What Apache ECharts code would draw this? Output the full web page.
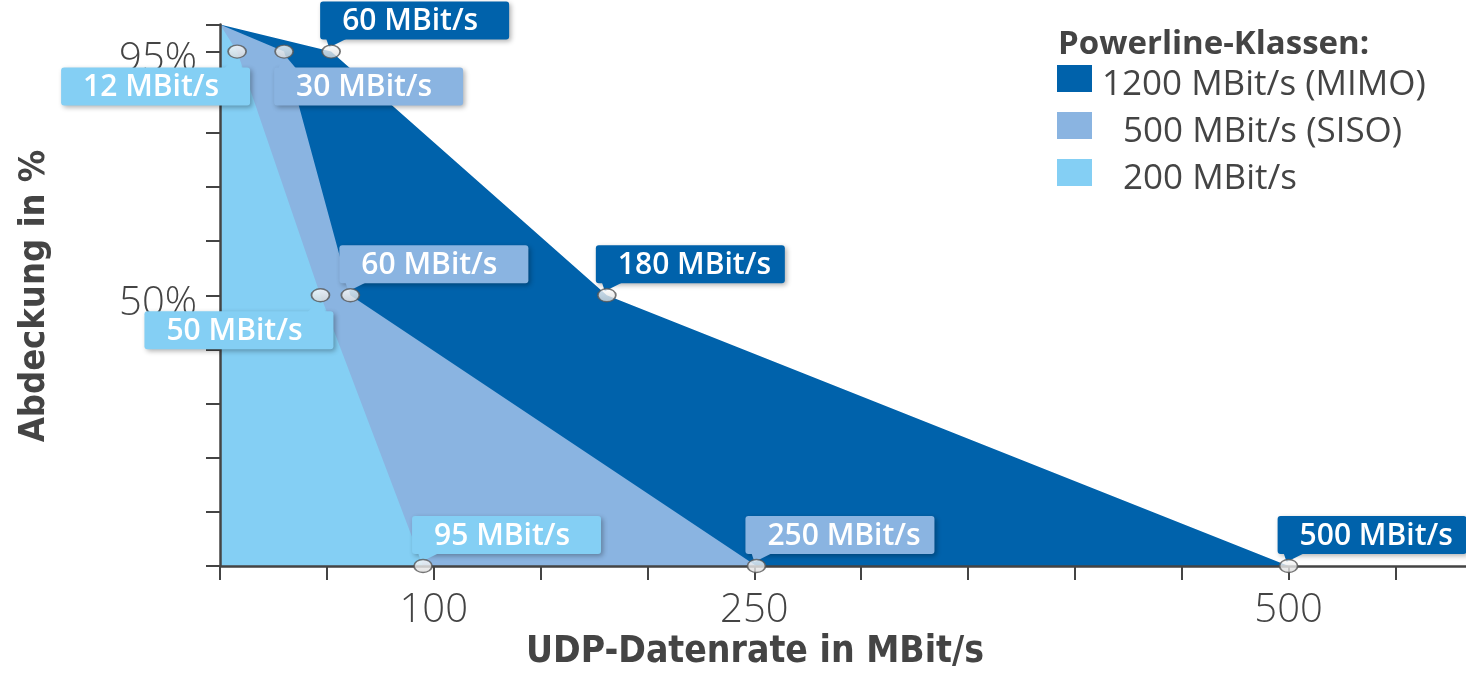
<!DOCTYPE html>
<html>
<head>
<meta charset="utf-8">
<script src="https://cdn.jsdelivr.net/npm/echarts@6/dist/echarts.min.js"></script>
<style>html,body{margin:0;padding:0;background:#fff}#c{width:1466px;height:674px}</style>
</head>
<body>
<div id="c"></div>
<script>
// ---- data ----
const classNames = ['1200 MBit/s (MIMO)', '500 MBit/s (SISO)', '200 MBit/s'];
const coverage = [100, 95, 50, 0];
const mimoRate = [0, 52, 181, 500];
const sisoRate = [0, 30, 61, 251];
const basicRate = [0, 8, 47, 95];
const mimoLabels = ['', '60 MBit/s', '180 MBit/s', '500 MBit/s'];
const sisoLabels = ['', '30 MBit/s', '60 MBit/s', '250 MBit/s'];
const basicLabels = ['', '12 MBit/s', '50 MBit/s', '95 MBit/s'];
const xTicks = [0, 50, 100, 150, 200, 250, 300, 350, 400, 450, 500, 550];
const xTickLabels = [100, 250, 500];
const yTicks = [0, 10, 20, 30, 40, 50, 60, 70, 80, 90, 95, 100];
const yTickLabels = [50, 95];
const legendTitle = 'Powerline-Klassen:';
const xTitle = 'UDP-Datenrate in MBit/s';
const yTitle = 'Abdeckung in %';

// ---- styling ----
const colors = ['#0062AB', '#8AB4E1', '#84CFF4'];
const sides = [
  ['', 'ur', 'ur', 'ur'],
  ['', 'lr', 'ur', 'ur'],
  ['', 'll', 'll', 'ur']
];
const rates = [mimoRate, sisoRate, basicRate];
const labels = [mimoLabels, sisoLabels, basicLabels];
const FONT = '"Open Sans", "Noto Sans", sans-serif';
const COND = '"Liberation Sans Narrow", "DejaVu Sans Condensed", "Open Sans", sans-serif';
const grey = '#444';

const chart = echarts.init(document.getElementById('c'));

const series = [];
rates.forEach((r, k) => {
  series.push({
    name: classNames[k], type: 'line', z: 2,
    data: r.map((x, i) => [x, coverage[i]]),
    showSymbol: false, symbol: 'none',
    lineStyle: { width: 0 },
    areaStyle: { color: colors[k], opacity: 1 },
    itemStyle: { color: colors[k] },
    animation: false, silent: true
  });
});
rates.forEach((r, k) => {
  const pts = r.map((x, i) => [x, coverage[i], i]).filter(d => labels[k][d[2]] !== '');
  series.push({
    type: 'custom', z: 5, animation: false, silent: true,
    data: pts,
    renderItem: function (params, api) {
      const p = api.coord([api.value(0), api.value(1)]);
      const i = api.value(2);
      const side = sides[k][i];
      const w = 189, h = 38;
      let bx, by, tri;
      if (side === 'ur') {
        bx = p[0] - 11; by = p[1] - 12 - h;
        tri = [[bx + 6, by + h - 1], [bx + 27, by + h - 1], [p[0] - 2, p[1] - 4]];
      } else if (side === 'lr') {
        bx = p[0] - 10; by = p[1] + 16;
        tri = [[bx + 4, by + 1], [bx + 22, by + 1], [p[0] + 1, p[1] + 4]];
      } else {
        bx = p[0] + 13 - w; by = p[1] + 16;
        tri = [[bx + w - 26, by + 1], [bx + w - 8, by + 1], [p[0], p[1] + 4]];
      }
      return {
        type: 'group',
        children: [
          { type: 'rect', shape: { x: bx, y: by, width: w, height: h, r: 3 },
            style: { fill: colors[k], shadowBlur: 5, shadowOffsetX: 2, shadowOffsetY: 2, shadowColor: 'rgba(0,0,0,0.3)' } },
          { type: 'polygon', shape: { points: tri }, style: { fill: colors[k] } },
          { type: 'text', x: bx + 22, y: by + h / 2 + 1,
            style: { text: labels[k][i], fill: '#fff', font: '600 30px ' + FONT, textVerticalAlign: 'middle', textAlign: 'left' } }
        ]
      };
    }
  });
});
rates.forEach((r, k) => {
  series.push({
    type: 'scatter', z: 6, animation: false, silent: true,
    data: r.map((x, i) => [x, coverage[i], i]).filter(d => labels[k][d[2]] !== ''),
    symbol: 'circle', symbolSize: [18, 13],
    itemStyle: {
      color: new echarts.graphic.LinearGradient(0, 0, 0, 1, [
        { offset: 0, color: '#ffffff' }, { offset: 1, color: '#d8d8d8' }]),
      borderColor: '#555', borderWidth: 1.5
    }
  });
});

chart.setOption({
  animation: false,
  backgroundColor: '#fff',
  title: {
    text: legendTitle, left: 1058, top: 28, padding: 0,
    textStyle: { fontFamily: FONT, fontWeight: 'bold', fontSize: 33, color: grey }
  },
  legend: {
    data: classNames, orient: 'vertical', left: 1057, top: 58, padding: 0,
    icon: 'rect', itemWidth: 35, itemHeight: 27, itemGap: 2,
    selectedMode: false,
    formatter: n => n.indexOf('1200') === 0 ? '{t|' + n + '}' : '{s|}{t|' + n + '}',
    textStyle: {
      color: grey, fontFamily: FONT, fontSize: 35, lineHeight: 27, padding: [14, 0, 0, 5],
      rich: { t: { fontFamily: FONT, fontSize: 35, color: grey, lineHeight: 27 }, s: { width: 21 } }
    }
  },
  grid: { left: 220, right: 0, top: 24.5, bottom: 108 },
  xAxis: {
    type: 'value', min: 0, max: 583, z: 3,
    splitLine: { show: false },
    axisLine: { show: true, lineStyle: { color: grey, width: 2.5 } },
    axisTick: { show: true, length: 14, customValues: xTicks, lineStyle: { color: grey, width: 2 } },
    axisLabel: { customValues: xTickLabels, margin: 25, color: grey, fontFamily: FONT, fontWeight: 300, fontSize: 40 }
  },
  yAxis: {
    type: 'value', min: 0, max: 100, z: 3,
    splitLine: { show: false },
    axisLine: { show: true, lineStyle: { color: grey, width: 2.5 } },
    axisTick: { show: true, length: 14, customValues: yTicks, lineStyle: { color: grey, width: 2 } },
    axisLabel: { customValues: yTickLabels, margin: 23, verticalAlign: 'top', lineHeight: 16, formatter: v => v + '%', color: grey, fontFamily: FONT, fontWeight: 300, fontSize: 40 }
  },
  graphic: [
    { type: 'text', x: 755, y: 652, style: { text: xTitle, font: 'bold 37px ' + COND, fill: grey, textAlign: 'center', textVerticalAlign: 'middle' } },
    { type: 'text', x: 35, y: 296, rotation: Math.PI / 2, style: { text: yTitle, font: 'bold 36px ' + COND, fill: grey, textAlign: 'center', textVerticalAlign: 'middle' } }
  ],
  series: series
});
</script>
</body>
</html>
